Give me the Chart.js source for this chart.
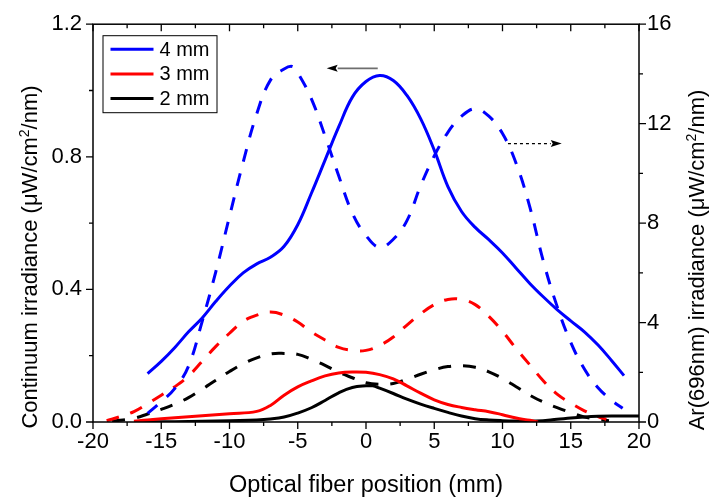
<!DOCTYPE html>
<html><head><meta charset="utf-8">
<script src="https://cdn.jsdelivr.net/npm/chart.js@4/dist/chart.umd.min.js"></script>
<style>html,body{margin:0;padding:0;background:#fff;}canvas{display:block;}</style>
</head><body>
<canvas id="c" width="715" height="498"></canvas>
<script>
// ---- data ----
const seriesNames = ['4 mm', '3 mm', '2 mm'];
const seriesColors = ['#0000FF', '#FF0000', '#000000'];

// Continuum irradiance (left axis, solid lines)
const xCont4 = [-16,-15,-14,-13,-12,-11,-10,-9,-8,-7,-6,-5,-4,-3,-2,-1,0,1,2,3,4,5,6,7,8,9,10,11,12,13,14,15,16,17,18,18.9];
const cont4  = [0.146,0.183,0.225,0.272,0.314,0.364,0.41,0.45,0.477,0.497,0.53,0.595,0.69,0.79,0.89,0.98,1.027,1.045,1.03,0.985,0.915,0.82,0.71,0.635,0.587,0.55,0.51,0.464,0.418,0.377,0.339,0.305,0.272,0.232,0.185,0.14];
const xCont3 = [-17,-16,-14,-12,-10,-8,-7,-6,-5,-4,-3,-2,-1,0,1,2,3,4,5,6,7,8,9,10,11,12,12.6];
const cont3  = [0.002,0.006,0.013,0.019,0.025,0.032,0.05,0.081,0.106,0.124,0.139,0.148,0.151,0.15,0.143,0.13,0.109,0.087,0.067,0.053,0.044,0.037,0.031,0.022,0.012,0.005,0.0];
const xCont2 = [-17,-14,-12,-10,-8,-7,-6,-5,-4,-3,-2,-1,0,0.5,1,2,3,4,5,6,7,8,9,10,11,12.5,14,15,16,17,18,20];
const cont2  = [0.0,0.001,0.002,0.004,0.006,0.009,0.015,0.027,0.043,0.065,0.088,0.104,0.109,0.109,0.102,0.086,0.069,0.054,0.041,0.029,0.018,0.01,0.006,0.004,0.003,0.003,0.008,0.012,0.015,0.017,0.018,0.018];

// Ar(696nm) irradiance (right axis, dashed lines)
const xAr4 = [-16,-15,-14,-13,-12,-11,-10,-9,-8,-7,-6,-5.4,-5,-4,-3,-2,-1,0,1,2,3,4,5,6,7,8,9,10,11,12,13,14,15,16,17,18,18.8];
const ar4  = [0.35,0.82,1.35,2.25,4.05,6.05,8.27,10.45,12.4,13.75,14.2,14.3,14.05,13.0,11.5,9.9,8.4,7.5,7.02,7.35,8.1,9.5,10.7,11.65,12.3,12.6,12.3,11.6,10.4,8.65,6.45,4.65,3.2,2.13,1.38,0.87,0.55];
const xAr3 = [-19,-18,-17,-16,-15,-14,-13,-12,-11,-10,-9,-8,-7,-6,-5,-4,-3,-2,-1,0,1,2,3,4,5,6,7,8,9,10,11,12,13,14,15,16,17,17.6];
const ar3  = [0.05,0.22,0.42,0.74,1.08,1.42,1.85,2.44,3.04,3.57,4.05,4.3,4.42,4.3,4.02,3.62,3.3,3.0,2.88,2.88,3.08,3.42,3.9,4.35,4.72,4.93,4.93,4.72,4.25,3.65,2.95,2.3,1.65,1.12,0.76,0.45,0.22,0.1];
const xAr2 = [-18.6,-17,-16,-15,-14,-13,-12,-11,-10,-9,-8,-7,-6,-5,-4,-3,-2,-1,0,1,2,3,4,5,6,7,8,9,10,11,12,13,14,15,16,17,17.8];
const ar2  = [0.03,0.15,0.32,0.51,0.72,0.98,1.32,1.68,2.03,2.34,2.58,2.74,2.76,2.72,2.52,2.28,2.0,1.78,1.58,1.52,1.55,1.72,1.92,2.1,2.23,2.26,2.2,2.02,1.75,1.42,1.08,0.8,0.58,0.38,0.2,0.11,0.05];

// axes / ticks
const xTicks = [-20,-15,-10,-5,0,5,10,15,20];
const xMinorStep = 2.5;
const yLeftTicks = [0.0,0.4,0.8,1.2];
const yLeftMinorStep = 0.2;
const yRightTicks = [0,4,8,12,16];
const yRightMinorStep = 2;
const xTitle = 'Optical fiber position (mm)';
const yLeftTitle = ['Continuum irradiance (\u03bcW/cm', '2', '/nm)'];
const yRightTitle = ['Ar(696nm) irradiance (\u03bcW/cm', '2', '/nm)'];
// arrows: [x from, x to, y, axis]
const arrowLeft  = {x0: 0.86, x1: -2.88, y: 1.067, axis: 'y'};
const arrowRight = {x0: 10.4, x1: 14.34, y: 11.2, axis: 'y2'};

const FONT = '"Liberation Sans", Arial, sans-serif';
const pts = (xs, ys) => xs.map((x, i) => ({x: x, y: ys[i]}));

function solid(i, xs, ys) {
  return {label: seriesNames[i], data: pts(xs, ys), yAxisID: 'y', borderColor: seriesColors[i],
    borderWidth: 3, pointRadius: 0, fill: false, tension: 0.4};
}
function dashed(i, xs, ys) {
  return {label: seriesNames[i] + ' Ar', data: pts(xs, ys), yAxisID: 'y2', borderColor: seriesColors[i],
    borderWidth: 3, borderDash: [13, 12], pointRadius: 0, fill: false, tension: 0.4};
}

function isMultiple(v, step) { const r = v / step; return Math.abs(r - Math.round(r)) < 1e-6; }

// text with a real superscript part, centred on (0,0), baseline at 0
function drawSupText(ctx, parts, size) {
  const big = size + 'px ' + FONT, small = Math.round(size * 0.62) + 'px ' + FONT;
  ctx.font = big; const w0 = ctx.measureText(parts[0]).width, w2 = ctx.measureText(parts[2]).width;
  ctx.font = small; const w1 = ctx.measureText(parts[1]).width;
  let x = -(w0 + w1 + w2) / 2;
  ctx.textAlign = 'left'; ctx.textBaseline = 'alphabetic';
  ctx.font = big; ctx.fillText(parts[0], x, 0); x += w0;
  ctx.font = small; ctx.fillText(parts[1], x, -size * 0.38); x += w1;
  ctx.font = big; ctx.fillText(parts[2], x, 0);
}

const decor = {
  id: 'decor',
  afterDraw(chart) {
    const ctx = chart.ctx, a = chart.chartArea;
    const sx = chart.scales.x, sy = chart.scales.y, sy2 = chart.scales.y2;
    ctx.save();
    // frame
    ctx.strokeStyle = '#000'; ctx.lineWidth = 1.5;
    ctx.strokeRect(a.left, a.top, a.right - a.left, a.bottom - a.top);
    // ticks
    ctx.lineWidth = 1.3;
    ctx.beginPath();
    const xMajor = xTicks[1] - xTicks[0];
    for (let v = sx.min; v <= sx.max + 1e-9; v += xMinorStep) {
      const p = sx.getPixelForValue(v), L = isMultiple(v, xMajor) ? 7 : 4;
      ctx.moveTo(p, a.bottom); ctx.lineTo(p, a.bottom + L);
      ctx.moveTo(p, a.top); ctx.lineTo(p, a.top + L);
    }
    const yMajor = yLeftTicks[1] - yLeftTicks[0];
    for (let v = sy.min; v <= sy.max + 1e-9; v += yLeftMinorStep) {
      const p = sy.getPixelForValue(v), L = isMultiple(v, yMajor) ? 7 : 4;
      ctx.moveTo(a.left, p); ctx.lineTo(a.left - L, p);
    }
    const y2Major = yRightTicks[1] - yRightTicks[0];
    for (let v = sy2.min; v <= sy2.max + 1e-9; v += yRightMinorStep) {
      const p = sy2.getPixelForValue(v), L = isMultiple(v, y2Major) ? 7 : 4;
      ctx.moveTo(a.right, p); ctx.lineTo(a.right + L, p);
    }
    ctx.stroke();

    // titles
    ctx.fillStyle = '#000';
    ctx.font = '23.5px ' + FONT;
    ctx.textAlign = 'center'; ctx.textBaseline = 'alphabetic';
    ctx.fillText(xTitle, (a.left + a.right) / 2, 491.5);
    ctx.save(); ctx.translate(37, 257); ctx.rotate(-Math.PI / 2);
    drawSupText(ctx, yLeftTitle, 22); ctx.restore();
    ctx.save(); ctx.translate(704, 260); ctx.rotate(-Math.PI / 2);
    drawSupText(ctx, yRightTitle, 22); ctx.restore();

    // legend
    const lx = a.left + 9.5, ly = a.top + 11, lw = 114, lh = 77;
    ctx.fillStyle = '#fff'; ctx.fillRect(lx, ly, lw, lh);
    ctx.strokeStyle = '#000'; ctx.lineWidth = 1;
    ctx.strokeRect(lx + 0.5, ly + 0.5, lw, lh);
    ctx.font = '20px ' + FONT; ctx.textAlign = 'left'; ctx.textBaseline = 'middle';
    for (let i = 0; i < seriesNames.length; i++) {
      const yy = ly + 14 + i * 24.7;
      ctx.strokeStyle = seriesColors[i]; ctx.lineWidth = 3;
      ctx.beginPath(); ctx.moveTo(lx + 8, yy); ctx.lineTo(lx + 51, yy); ctx.stroke();
      ctx.fillStyle = '#000'; ctx.fillText(seriesNames[i], lx + 57, yy + 1);
    }

    // arrows
    function arrow(ar, color, dash, lw) {
      const sc = chart.scales[ar.axis];
      const px0 = sx.getPixelForValue(ar.x0), px1 = sx.getPixelForValue(ar.x1), py = sc.getPixelForValue(ar.y);
      const dir = Math.sign(px1 - px0), head = 11;
      ctx.strokeStyle = color; ctx.lineWidth = lw; ctx.setLineDash(dash);
      ctx.beginPath(); ctx.moveTo(px0, py); ctx.lineTo(px1 - dir * head, py); ctx.stroke();
      ctx.setLineDash([]);
      ctx.fillStyle = '#000';
      ctx.beginPath(); ctx.moveTo(px1, py); ctx.lineTo(px1 - dir * head, py - 3.5);
      ctx.lineTo(px1 - dir * (head - 2), py); ctx.lineTo(px1 - dir * head, py + 3.5); ctx.closePath(); ctx.fill();
    }
    arrow(arrowLeft, '#6e6e6e', [], 1.8);
    arrow(arrowRight, '#000', [3, 3], 1.2);
    ctx.restore();
  }
};

new Chart(document.getElementById('c'), {
  type: 'line',
  data: {datasets: [
    solid(0, xCont4, cont4), solid(1, xCont3, cont3), solid(2, xCont2, cont2),
    dashed(0, xAr4, ar4), dashed(1, xAr3, ar3), dashed(2, xAr2, ar2)
  ]},
  options: {
    responsive: false, devicePixelRatio: 1, animation: false,
    layout: {padding: {top: 23, left: 0, right: 0, bottom: 0}},
    plugins: {legend: {display: false}, tooltip: {enabled: false}},
    elements: {line: {borderCapStyle: 'butt', borderJoinStyle: 'round'}},
    scales: {
      x: {type: 'linear', position: 'bottom', min: xTicks[0], max: xTicks[xTicks.length - 1],
        afterBuildTicks: s => { s.ticks = xTicks.map(v => ({value: v})); },
        afterFit: s => { s.height = 76; },
        grid: {display: false, drawTicks: false}, border: {display: false},
        ticks: {color: '#000', font: {family: FONT, size: 22}, padding: 7, maxRotation: 0, autoSkip: false}},
      y: {type: 'linear', position: 'left', min: yLeftTicks[0], max: yLeftTicks[yLeftTicks.length - 1],
        afterBuildTicks: s => { s.ticks = yLeftTicks.map(v => ({value: v})); },
        afterFit: s => { s.width = 93; },
        grid: {display: false, drawTicks: false}, border: {display: false},
        ticks: {color: '#000', font: {family: FONT, size: 22}, padding: 11, callback: v => Number(v).toFixed(1)}},
      y2: {type: 'linear', position: 'right', min: yRightTicks[0], max: yRightTicks[yRightTicks.length - 1],
        afterBuildTicks: s => { s.ticks = yRightTicks.map(v => ({value: v})); },
        afterFit: s => { s.width = 76; },
        grid: {display: false, drawTicks: false}, border: {display: false},
        ticks: {color: '#000', font: {family: FONT, size: 22}, padding: 8, callback: v => String(v)}}
    }
  },
  plugins: [decor]
});
</script>
</body></html>
